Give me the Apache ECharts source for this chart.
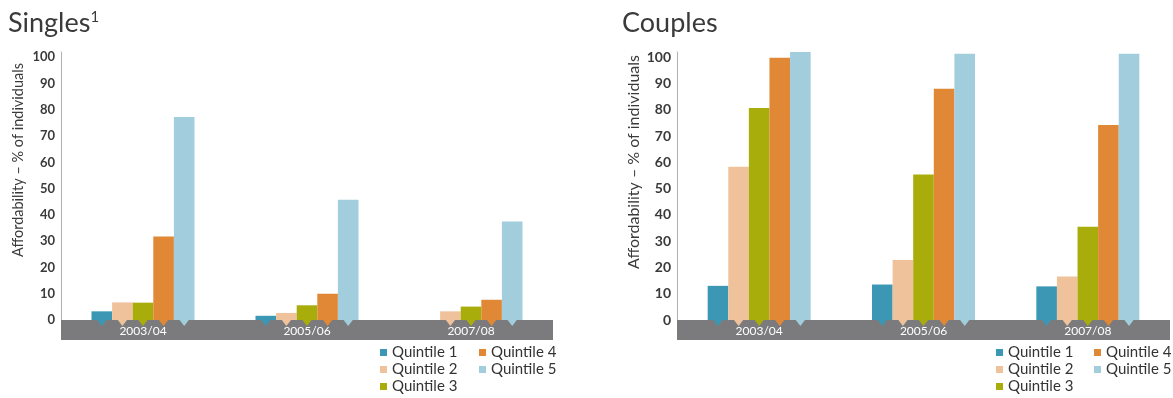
<!DOCTYPE html>
<html>
<head>
<meta charset="utf-8">
<script src="https://cdn.jsdelivr.net/npm/echarts@6/dist/echarts.min.js"></script>
<style>html,body{margin:0;padding:0;background:#fff}#c{width:1173px;height:398px}</style>
</head>
<body>
<div id="c"></div>
<script>
const categories = ['2003/04', '2005/06', '2007/08'];
const quintiles = ['Quintile 1', 'Quintile 2', 'Quintile 3', 'Quintile 4', 'Quintile 5'];
const yTicks = [0, 10, 20, 30, 40, 50, 60, 70, 80, 90, 100];
// Singles: one array per quintile, values per category
const singlesQ1 = [3.3, 1.6, 0];
const singlesQ2 = [6.7, 2.7, 3.3];
const singlesQ3 = [6.6, 5.6, 5.1];
const singlesQ4 = [31.8, 10.0, 7.7];
const singlesQ5 = [77.3, 45.8, 37.5];
// Couples
const couplesQ1 = [13.0, 13.5, 12.8];
const couplesQ2 = [58.3, 22.8, 16.6];
const couplesQ3 = [80.7, 55.4, 35.5];
const couplesQ4 = [99.8, 88.0, 74.2];
const couplesQ5 = [102, 101.3, 101.3];

const COLORS = ['#3b97b3', '#efc29c', '#a8ad0c', '#e08835', '#a2cddc'];
const BAR_W = 20.6;
const FONT = 'Lato, "Noto Sans", sans-serif';

const singles = [singlesQ1, singlesQ2, singlesQ3, singlesQ4, singlesQ5];
const couples = [couplesQ1, couplesQ2, couplesQ3, couplesQ4, couplesQ5];

function renderTri(params, api) {
  const cat = api.value(0), q = api.value(1), v = api.value(2);
  if (!v) return null;
  const p = api.coord([cat, 0]);
  const x = p[0] + (q - 2) * BAR_W;
  const y = p[1];
  return {
    type: 'polygon',
    shape: { points: [[x - 5, y - 0.5], [x + 5, y - 0.5], [x, y + 6]] },
    style: { fill: COLORS[q] }
  };
}

function triData(groups) {
  const out = [];
  groups.forEach((arr, q) => arr.forEach((v, i) => out.push([i, q, v])));
  return out;
}

function barSeries(groups, gi) {
  return groups.map((arr, q) => ({
    type: 'bar', name: quintiles[q], xAxisIndex: gi, yAxisIndex: gi,
    data: arr, barWidth: BAR_W, barGap: '0%',
    itemStyle: { color: COLORS[q] }
  }));
}

function xAxis(gi) {
  return {
    type: 'category', gridIndex: gi, data: categories, offset: 10,
    axisTick: { show: false },
    axisLine: { onZero: false, lineStyle: { color: '#7b7b7d', width: 20, cap: 'butt' } },
    axisLabel: { color: '#ffffff', fontFamily: FONT, fontSize: 12, margin: 1, verticalAlign: 'middle' }
  };
}

function yAxis(gi, fs, nfs, pad) {
  return {
    type: 'value', gridIndex: gi, min: 0, max: 102, interval: 10,
    splitLine: { show: false },
    axisTick: { show: false },
    axisLine: { show: true, lineStyle: { color: '#b0b0b0', width: 1 } },
    axisLabel: {
      color: '#3a3a3a', fontFamily: FONT, fontSize: fs, fontWeight: 'bold', margin: 6,
      showMaxLabel: false,
      formatter: v => (yTicks.indexOf(v) >= 0 ? String(v) : '')
    },
    name: 'Affordability \u2013 % of individuals',
    nameLocation: 'middle', nameGap: 35,
    nameTextStyle: { color: '#3a3a3a', fontFamily: FONT, fontSize: nfs, padding: [0, 0, 0, pad] }
  };
}

function legend(left, items, fs) {
  return {
    orient: 'vertical', left: left, top: 344, itemGap: 0, padding: 0,
    itemWidth: 7, itemHeight: 7, icon: 'rect', itemTextGap: 5,
    data: items, selectedMode: false,
    textStyle: { color: '#333', fontFamily: FONT, fontSize: fs, lineHeight: 17 }
  };
}

const option = {
  animation: false,
  title: [
    { text: 'Singles{s|1}', left: 3, top: 5,
      textStyle: { color: '#3a3a3a', fontFamily: FONT, fontSize: 27, fontWeight: 'normal',
        rich: { s: { fontSize: 15, verticalAlign: 'top', color: '#3a3a3a', fontFamily: FONT, padding: [0, 0, 12, 0] } } } },
    { text: 'Couples', left: 617, top: 5,
      textStyle: { color: '#3a3a3a', fontFamily: FONT, fontSize: 27, fontWeight: 'normal' } }
  ],
  legend: [
    legend(380, quintiles.slice(0, 3), 15),
    legend(479, quintiles.slice(3), 15),
    legend(996, quintiles.slice(0, 3), 15),
    legend(1094, quintiles.slice(3), 15)
  ],
  grid: [
    { left: 61, right: 620, top: 52, bottom: 78 },
    { left: 677, right: 3, top: 52, bottom: 78 }
  ],
  xAxis: [xAxis(0), xAxis(1)],
  yAxis: [yAxis(0, 13, 14.5, 52), yAxis(1, 14, 16, 48)],
  series: [
    ...barSeries(singles, 0),
    ...barSeries(couples, 1),
    { type: 'custom', xAxisIndex: 0, yAxisIndex: 0, data: triData(singles), renderItem: renderTri,
      encode: { x: 0, y: 2 }, clip: false, z: 5, silent: true },
    { type: 'custom', xAxisIndex: 1, yAxisIndex: 1, data: triData(couples), renderItem: renderTri,
      encode: { x: 0, y: 2 }, clip: false, z: 5, silent: true }
  ]
};

const chart = echarts.init(document.getElementById('c'), null, { renderer: 'canvas' });
chart.setOption(option);
</script>
</body>
</html>
